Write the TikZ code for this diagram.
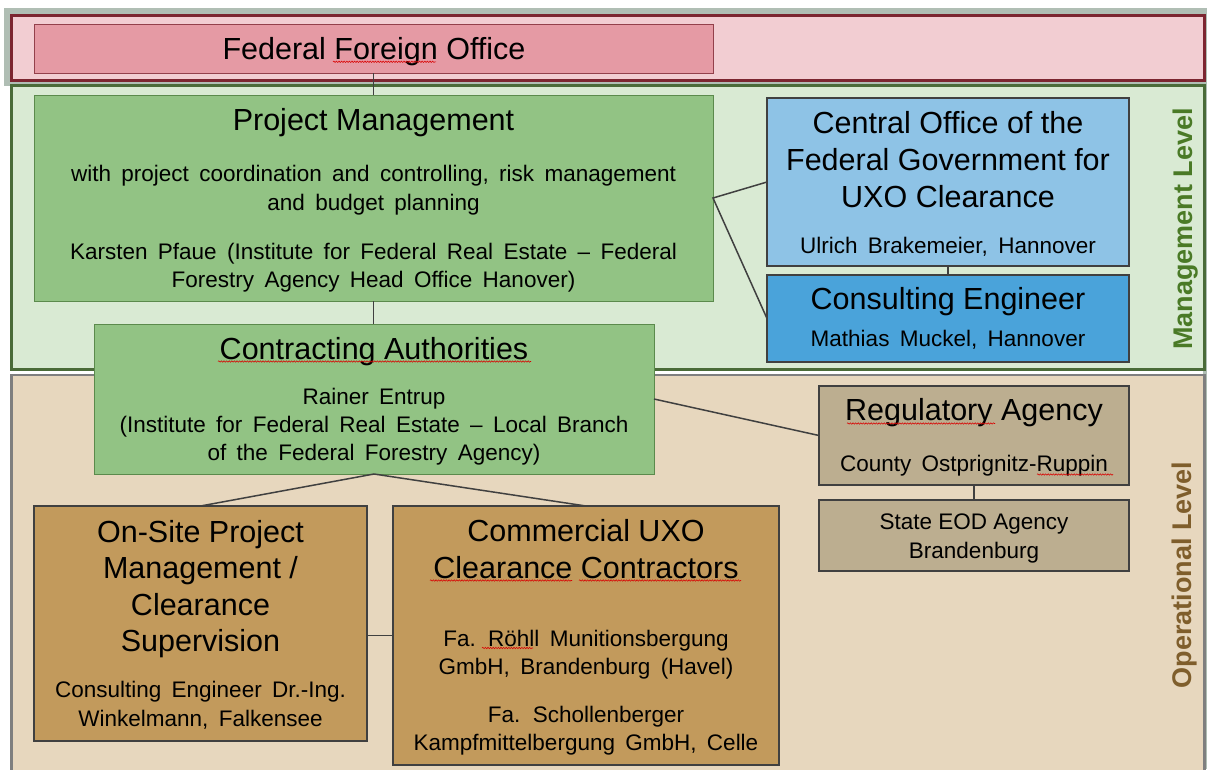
\documentclass[tikz,border=0pt]{standalone}
\usepackage{fontspec}
\setmainfont{Liberation Sans}
\usetikzlibrary{decorations.pathmorphing}
\definecolor{topgray}{HTML}{B0BEB4}
\definecolor{redband}{HTML}{F2CDD2}
\definecolor{redline}{HTML}{7C2530}
\definecolor{ffofill}{HTML}{E59AA4}
\definecolor{ffoline}{HTML}{93404B}
\definecolor{greenband}{HTML}{D9EAD3}
\definecolor{greenline}{HTML}{4A6B38}
\definecolor{pmfill}{HTML}{92C384}
\definecolor{pmline}{HTML}{5B8A4C}
\definecolor{lblue}{HTML}{8EC3E6}
\definecolor{dblue}{HTML}{4AA3DA}
\definecolor{opband}{HTML}{E7D7BE}
\definecolor{opline}{HTML}{7F7F7F}
\definecolor{taupe}{HTML}{BCAE90}
\definecolor{ochre}{HTML}{C29A5C}
\definecolor{dkline}{HTML}{404040}
\definecolor{mgmtgreen}{HTML}{4A7A26}
\definecolor{opbrown}{HTML}{7F5E2C}
\newcommand\mywidespace{\spaceskip 0.46em\relax}
\begin{document}
\begin{tikzpicture}[x=1pt,y=-1pt,
  box/.style={rectangle, draw=dkline, line width=1.1pt, inner sep=0pt, outer sep=0pt, anchor=north west},
  gbox/.style={box, draw=pmline, fill=pmfill, line width=0.9pt},
  ttl/.style={anchor=base, inner sep=0pt, font={\fontsize{30.5}{36.5}\selectfont}},
  bdy/.style={anchor=base, inner sep=0pt, font={\fontsize{22.5}{28.5}\selectfont\mywidespace}},
  bdyn/.style={anchor=base, inner sep=0pt, font={\fontsize{22.5}{28.5}\selectfont}},
  conn/.style={draw=dkline, line width=1.5pt},
  lvl/.style={anchor=base, inner sep=0pt, rotate=90, font={\fontsize{27}{32}\selectfont\bfseries}},
  wavy/.style={draw=red!85!black, line width=0.55pt, decorate, decoration={snake, amplitude=0.7pt, segment length=2.6pt}}
]
\useasboundingbox (0,0) rectangle (1207,769);
% backgrounds
\fill[topgray] (4,8) rectangle (1207,86);
\fill[topgray] (1203,8) rectangle (1207,769);
\filldraw[fill=redband, draw=redline, line width=3pt] (11.5,15.5) rectangle (1204.5,80.5);
\filldraw[fill=greenband, draw=greenline, line width=3pt] (11.5,85) rectangle (1204.5,369.5);
\filldraw[fill=opband, draw=opline, line width=2.5pt] (11.5,375) rectangle (1204.5,775);

% boxes
\node[box, draw=ffoline, fill=ffofill, line width=0.9pt, minimum width=679pt, minimum height=49pt] (ffo) at (34,24) {};
\node[gbox, minimum width=679pt, minimum height=206pt] (pm) at (34,95) {};
\node[box, fill=lblue, minimum width=362pt, minimum height=168pt] (central) at (767,98) {};
\node[box, fill=dblue, minimum width=362pt, minimum height=87pt] (consult) at (767,275) {};
\node[gbox, minimum width=560pt, minimum height=150pt] (ca) at (94,324) {};
\node[box, fill=taupe, minimum width=310pt, minimum height=99pt] (reg) at (819,386) {};
\node[box, fill=taupe, minimum width=310pt, minimum height=71pt] (eod) at (819,500) {};
\node[box, fill=ochre, minimum width=333pt, minimum height=235pt] (onsite) at (34,506) {};
\node[box, fill=ochre, minimum width=386pt, minimum height=259pt] (comm) at (393,506) {};

% connectors
\draw[conn] (ffo.south) -- (pm.north);
\draw[conn] (central.west) -- (pm.east) -- (consult.west);
\draw[conn] (central.south) -- (consult.north);
\draw[conn] (pm.south) -- (pm.south |- ca.north);
\draw[conn] (ca.east) -- (reg.west);
\draw[conn] (onsite.north) -- (ca.south) -- (comm.north);
\draw[conn] (comm.west -| onsite.east) -- (comm.west);
\draw[conn] (reg.south) -- (eod.north);

% texts
\node[ttl] (ffoT) at (374,59.3) {Federal Foreign Office};

\node[ttl] (pmT) at (373.5,130.7) {Project Management};
\node[bdy] (pmB1) at (373.5,181.7) {with project coordination and controlling, risk management};
\node[bdy] (pmB2) at (373.5,210) {and budget planning};
\node[bdy] (pmB3) at (373.5,259) {Karsten Pfaue (Institute for Federal Real Estate – Federal};
\node[bdy] (pmB4) at (373.5,287.7) {Forestry Agency Head Office Hanover)};

\node[ttl] (cT1) at (948,133) {Central Office of the};
\node[ttl] (cT2) at (948,170) {Federal Government for};
\node[ttl] (cT3) at (948,207) {UXO Clearance};
\node[bdy] (cB) at (948,253) {Ulrich Brakemeier, Hannover};

\node[ttl] (ceT) at (948,309) {Consulting Engineer};
\node[bdy] (ceB) at (948,346) {Mathias Muckel, Hannover};

\node[ttl] (caT) at (374,359.3) {Contracting Authorities};
\node[bdy] (caB1) at (374,404.3) {Rainer Entrup};
\node[bdy] (caB2) at (374,432.7) {(Institute for Federal Real Estate – Local Branch};
\node[bdy] (caB3) at (374,460.7) {of the Federal Forestry Agency)};

\node[ttl] (rT) at (974,420) {Regulatory Agency};
\node[bdy] (rB) at (974,471.7) {County Ostprignitz-Ruppin};

\node[bdyn] (eB1) at (974,529.3) {State EOD Agency};
\node[bdyn] (eB2) at (974,558.3) {Brandenburg};

\node[ttl] (oT1) at (200.5,542.3) {On-Site Project};
\node[ttl] (oT2) at (200.5,578.8) {Management /};
\node[ttl] (oT3) at (200.5,615.3) {Clearance};
\node[ttl] (oT4) at (200.5,651.8) {Supervision};
\node[bdy] (oB1) at (200.5,697.3) {Consulting Engineer Dr.-Ing.};
\node[bdy] (oB2) at (200.5,726) {Winkelmann, Falkensee};

\node[ttl] (kT1) at (586,541.7) {Commercial UXO};
\node[ttl] (kT2) at (586,578.3) {Clearance Contractors};
\node[bdy] (kB1) at (586,646) {Fa. Röhll Munitionsbergung};
\node[bdy] (kB2) at (586,674) {GmbH, Brandenburg (Havel)};
\node[bdy] (kB3) at (586,722.3) {Fa. Schollenberger};
\node[bdy] (kB4) at (586,750) {Kampfmittelbergung GmbH, Celle};

\node[lvl, text=mgmtgreen] (mgmt) at (1192.5,229) {Management Level};
\node[lvl, text=opbrown] (oper) at (1191.5,575) {Operational Level};

% spell-check underlines
\draw[wavy] (333,61.8) -- (436,61.8);
\draw[wavy] (218,361.5) -- (531,361.5);
\draw[wavy] (847,423.5) -- (995,423.5);
\draw[wavy] (1037,474.5) -- (1113,474.5);
\draw[wavy] (430,580.5) -- (572,580.5);
\draw[wavy] (579,580.5) -- (741,580.5);
\draw[wavy] (482,648) -- (533,648);
\end{tikzpicture}
\end{document}
